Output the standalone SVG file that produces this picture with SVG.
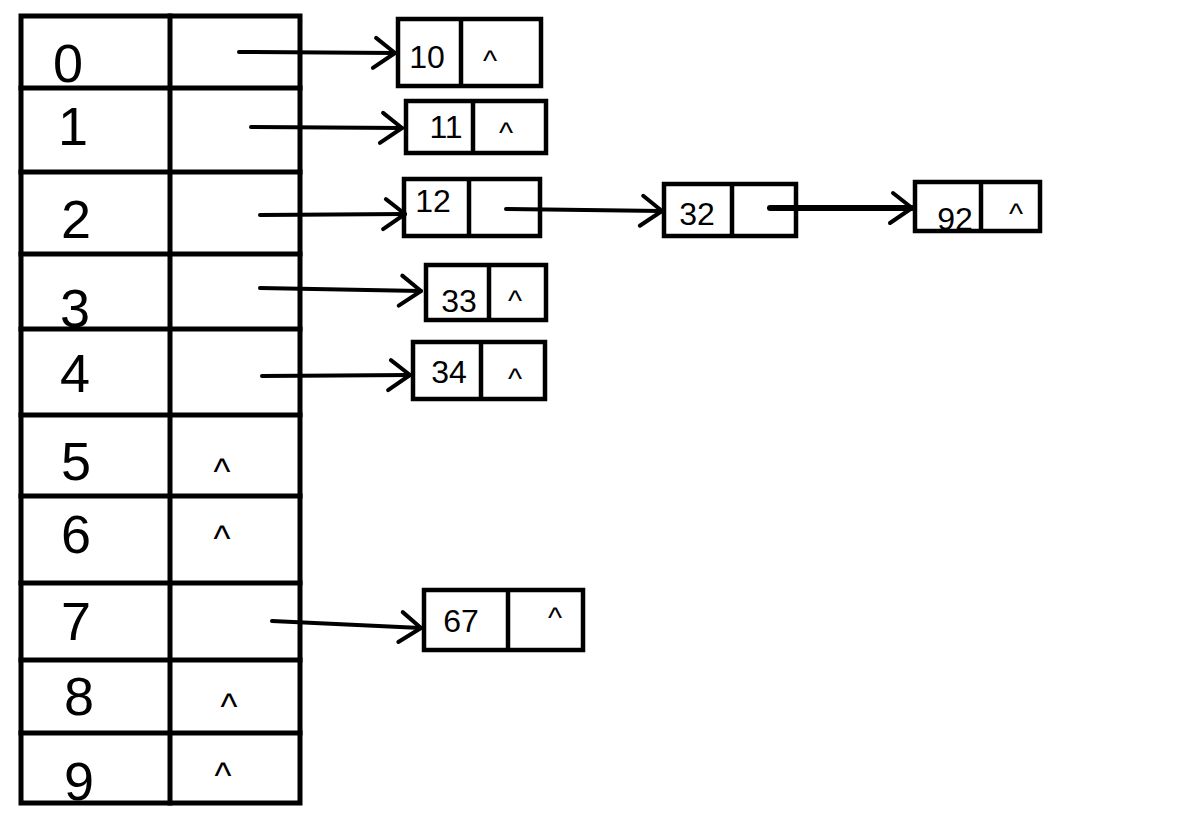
<svg xmlns="http://www.w3.org/2000/svg" width="1179" height="839" viewBox="0 0 1179 839">
<style>
.ln{stroke:#000;stroke-width:5;fill:none;stroke-linecap:square}
.box{stroke:#000;stroke-width:4.5;fill:none}
.dv{stroke:#000;stroke-width:4.5}
.idx{font-family:"Liberation Sans",Arial,sans-serif;font-size:54px;fill:#000;text-anchor:middle}
.val{font-family:"Liberation Sans",Arial,sans-serif;font-size:32px;fill:#000;text-anchor:middle}
.nil{font-family:"Liberation Sans",Arial,sans-serif;font-size:30px;fill:#000;text-anchor:middle}
.tnil{font-family:"Liberation Sans",Arial,sans-serif;font-size:36px;fill:#000;text-anchor:middle}
.cn{stroke:#000;stroke-width:4;fill:none;stroke-linecap:round}
</style>
<defs>
<marker id="arr" markerUnits="userSpaceOnUse" markerWidth="40" markerHeight="40" viewBox="-30 -20 40 40" refX="0" refY="0" orient="auto" overflow="visible">
<path d="M-19,-15 L0,0 L-22,15" fill="none" stroke="#000" stroke-width="4" stroke-linecap="round" stroke-linejoin="round"/>
</marker>
</defs>
<rect width="1179" height="839" fill="#fff"/>
<g id="hash-table">
<rect class="ln" x="21" y="16" width="279" height="787"/>
<line class="ln" x1="170" y1="16" x2="170" y2="803"/>
<line class="ln" x1="21" y1="88" x2="300" y2="88"/>
<line class="ln" x1="21" y1="172" x2="300" y2="172"/>
<line class="ln" x1="21" y1="254" x2="300" y2="254"/>
<line class="ln" x1="21" y1="329" x2="300" y2="329"/>
<line class="ln" x1="21" y1="415" x2="300" y2="415"/>
<line class="ln" x1="21" y1="496" x2="300" y2="496"/>
<line class="ln" x1="21" y1="583" x2="300" y2="583"/>
<line class="ln" x1="21" y1="660" x2="300" y2="660"/>
<line class="ln" x1="21" y1="733" x2="300" y2="733"/>
<g id="slot-0"><text class="idx" x="68" y="82">0</text></g>
<g id="slot-1"><text class="idx" x="73" y="145">1</text></g>
<g id="slot-2"><text class="idx" x="76" y="238">2</text></g>
<g id="slot-3"><text class="idx" x="75" y="327">3</text></g>
<g id="slot-4"><text class="idx" x="75" y="392">4</text></g>
<g id="slot-5"><text class="idx" x="76" y="480">5</text><text class="tnil" x="222" y="484">^</text></g>
<g id="slot-6"><text class="idx" x="76" y="553">6</text><text class="tnil" x="222" y="551">^</text></g>
<g id="slot-7"><text class="idx" x="76" y="640">7</text></g>
<g id="slot-8"><text class="idx" x="79" y="715">8</text><text class="tnil" x="229" y="719">^</text></g>
<g id="slot-9"><text class="idx" x="79" y="800">9</text><text class="tnil" x="223" y="788">^</text></g>
</g>
<g id="node-10"><rect class="box" x="398" y="19" width="143" height="67"/><line class="dv" x1="461" y1="19" x2="461" y2="86"/><text class="val" x="427" y="68">10</text><text class="nil" x="490" y="71">^</text></g>
<g id="node-11"><rect class="box" x="406" y="101" width="140" height="52"/><line class="dv" x1="473" y1="101" x2="473" y2="153"/><text class="val" x="446" y="138">11</text><text class="nil" x="506" y="143">^</text></g>
<g id="node-12"><rect class="box" x="404" y="179" width="136" height="57"/><line class="dv" x1="469" y1="179" x2="469" y2="236"/><text class="val" x="433" y="212">12</text></g>
<g id="node-32"><rect class="box" x="664" y="184" width="132" height="52"/><line class="dv" x1="732" y1="184" x2="732" y2="236"/><text class="val" x="697" y="225">32</text></g>
<g id="node-92"><rect class="box" x="915" y="182" width="125" height="49"/><line class="dv" x1="981" y1="182" x2="981" y2="231"/><text class="val" x="955" y="230">92</text><text class="nil" x="1016" y="224">^</text></g>
<g id="node-33"><rect class="box" x="426" y="265" width="120" height="55"/><line class="dv" x1="489" y1="265" x2="489" y2="320"/><text class="val" x="459" y="312">33</text><text class="nil" x="515" y="311">^</text></g>
<g id="node-34"><rect class="box" x="413" y="342" width="132" height="57"/><line class="dv" x1="481" y1="342" x2="481" y2="399"/><text class="val" x="449" y="383">34</text><text class="nil" x="515" y="389">^</text></g>
<g id="node-67"><rect class="box" x="424" y="590" width="159" height="60"/><line class="dv" x1="508" y1="590" x2="508" y2="650"/><text class="val" x="461" y="632">67</text><text class="nil" x="555" y="628">^</text></g>
<g id="connectors">
<line class="cn" x1="239" y1="52" x2="395" y2="53" marker-end="url(#arr)"/>
<line class="cn" x1="251" y1="127" x2="402" y2="128" marker-end="url(#arr)"/>
<line class="cn" x1="260" y1="215" x2="405" y2="214" marker-end="url(#arr)"/>
<line class="cn" x1="260" y1="288" x2="421" y2="291" marker-end="url(#arr)"/>
<line class="cn" x1="262" y1="376" x2="410" y2="375" marker-end="url(#arr)"/>
<line class="cn" x1="272" y1="621" x2="421" y2="628" marker-end="url(#arr)"/>
<line class="cn" x1="506" y1="209" x2="662" y2="211" marker-end="url(#arr)"/>
<line class="cn" style="stroke-width:6" x1="770" y1="208" x2="912" y2="208" marker-end="url(#arr)"/>
</g>
</svg>
